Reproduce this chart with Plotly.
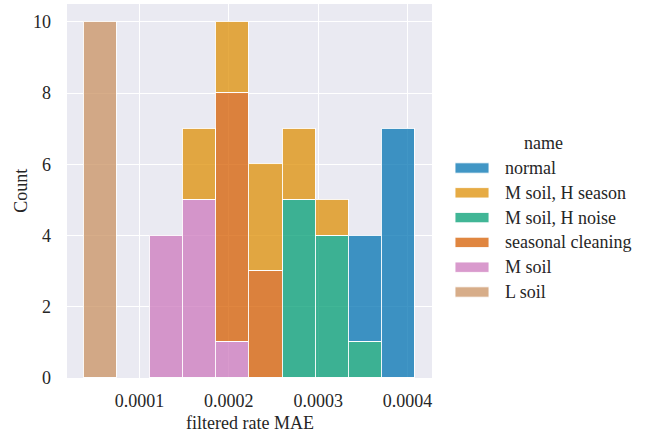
import plotly.graph_objects as go

# histogram bin edges (10 bins)
bin_edges = [0.0000375, 0.0000746, 0.0001117, 0.0001488, 0.0001859, 0.0002230,
             0.0002602, 0.0002973, 0.0003344, 0.0003715, 0.0004087]

# counts per bin for each series (stacked; first listed = bottom of stack)
l_soil = [10, 0, 0, 0, 0, 0, 0, 0, 0, 0]
m_soil = [0, 0, 4, 5, 1, 0, 0, 0, 0, 0]
seasonal_cleaning = [0, 0, 0, 0, 7, 3, 0, 0, 0, 0]
m_soil_h_noise = [0, 0, 0, 0, 0, 0, 5, 4, 1, 0]
m_soil_h_season = [0, 0, 0, 2, 2, 3, 2, 1, 0, 0]
normal = [0, 0, 0, 0, 0, 0, 0, 0, 3, 7]

legend_names = ["normal", "M soil, H season", "M soil, H noise",
                "seasonal cleaning", "M soil", "L soil"]
colors = {
    "normal": "#0173B2",
    "M soil, H season": "#DE8F05",
    "M soil, H noise": "#029E73",
    "seasonal cleaning": "#D55E00",
    "M soil": "#CC78BC",
    "L soil": "#CA9161",
}
series = {
    "L soil": l_soil,
    "M soil": m_soil,
    "seasonal cleaning": seasonal_cleaning,
    "M soil, H noise": m_soil_h_noise,
    "M soil, H season": m_soil_h_season,
    "normal": normal,
}

x_ticks = [0.0001, 0.0002, 0.0003, 0.0004]
y_ticks = [0, 2, 4, 6, 8, 10]

centers = [(a + b) / 2 for a, b in zip(bin_edges[:-1], bin_edges[1:])]
widths = [b - a for a, b in zip(bin_edges[:-1], bin_edges[1:])]


def rgba(hexc, a):
    h = hexc.lstrip("#")
    return "rgba(%d,%d,%d,%s)" % (int(h[0:2], 16), int(h[2:4], 16), int(h[4:6], 16), a)


FONT = "Liberation Serif, Times New Roman, serif"
TXT = "#262626"
FS = 18

fig = go.Figure()
for name in ["L soil", "M soil", "seasonal cleaning", "M soil, H noise",
             "M soil, H season", "normal"]:
    vals = [v if v > 0 else None for v in series[name]]
    fig.add_trace(go.Bar(
        x=centers, y=vals, width=widths, name=name,
        marker=dict(color=rgba(colors[name], 0.75),
                    line=dict(color="rgba(255,255,255,0.9)", width=1.2)),
        showlegend=False,
    ))

W, H = 650, 439
ML, MR, MT, MB = 67, 218, 4, 61
PW = W - ML - MR
PH = H - MT - MB


def px2paper(x):
    return (x - ML) / PW


def py2paper(y):
    return (H - MB - y) / PH


shapes = []
annotations = []
# axis titles
annotations.append(dict(text="filtered rate MAE", x=px2paper(249.5), y=py2paper(423),
                        xref="paper", yref="paper", xanchor="center", yanchor="middle",
                        showarrow=False, font=dict(family=FONT, size=FS, color=TXT)))
annotations.append(dict(text="Count", x=px2paper(21), y=py2paper(190.7), textangle=-90,
                        xref="paper", yref="paper", xanchor="center", yanchor="middle",
                        showarrow=False, font=dict(family=FONT, size=FS, color=TXT)))
# legend title
annotations.append(dict(text="name", x=px2paper(543), y=py2paper(143),
                        xref="paper", yref="paper", xanchor="center", yanchor="middle",
                        showarrow=False, font=dict(family=FONT, size=FS, color=TXT)))
for i, name in enumerate(legend_names):
    yc = 168 + i * 24.8
    shapes.append(dict(type="rect", xref="paper", yref="paper",
                       x0=px2paper(455), x1=px2paper(489),
                       y0=py2paper(yc - 5.2), y1=py2paper(yc + 5.2),
                       fillcolor=rgba(colors[name], 0.75),
                       line=dict(color="rgba(255,255,255,0.9)", width=1)))
    annotations.append(dict(text=name, x=px2paper(503), y=py2paper(yc),
                            xref="paper", yref="paper", xanchor="left", yanchor="middle",
                            showarrow=False, font=dict(family=FONT, size=FS, color=TXT)))

fig.update_layout(
    width=W, height=H,
    margin=dict(l=ML, r=MR, t=MT, b=MB, autoexpand=False),
    paper_bgcolor="white",
    plot_bgcolor="#EAEAF2",
    barmode="stack",
    bargap=0,
    font=dict(family=FONT, size=FS, color=TXT),
    shapes=shapes,
    annotations=annotations,
    xaxis=dict(
        range=[0.0000189, 0.0004273],
        tickvals=x_ticks, ticktext=["%.4f" % v for v in x_ticks],
        showgrid=True, gridcolor="white", gridwidth=1.3,
        zeroline=False, showline=False, ticks="",
        ticklabelstandoff=10, automargin=False,
    ),
    yaxis=dict(
        range=[0, 10.5],
        tickvals=y_ticks,
        showgrid=True, gridcolor="white", gridwidth=1.3,
        zeroline=False, showline=False, ticks="",
        ticklabelstandoff=15, automargin=False,
    ),
)

fig.write_html("out.html",
               config={"displayModeBar": False},
               post_script="document.body.style.margin='0';document.body.style.padding='0';")
